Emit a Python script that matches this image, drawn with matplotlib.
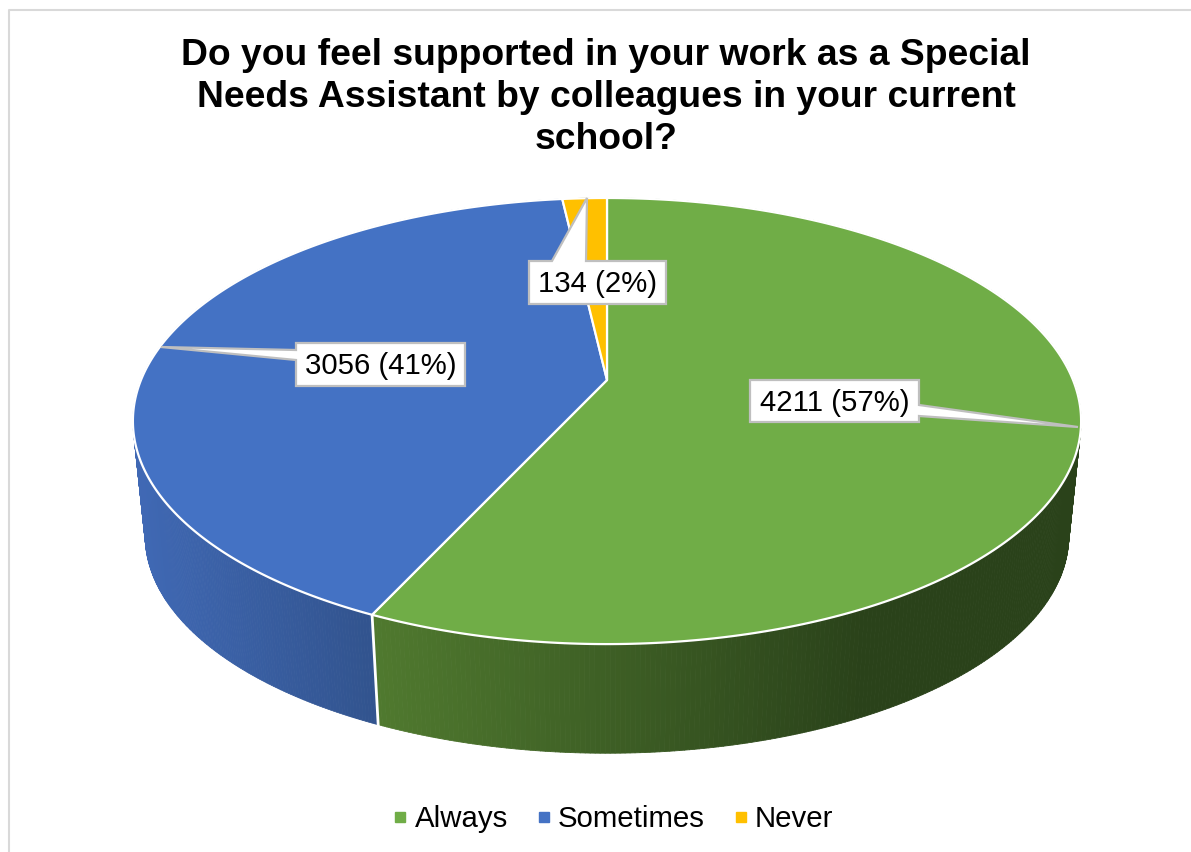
import numpy as np
import matplotlib
matplotlib.use('Agg')
import matplotlib.pyplot as plt
from matplotlib.collections import PolyCollection
from matplotlib.lines import Line2D
from matplotlib.patches import Polygon

plt.rcParams['font.family'] = ['Liberation Sans', 'DejaVu Sans']

# Data
labels = ['Always', 'Sometimes', 'Never']
values = [4211, 3056, 134]
colors = ['#70AD47', '#4472C4', '#FFC000']

# Wall shading, left and right end of each slice's gradient
wall_left = ['#507A2F', '#4069B5', '#7F6000']
wall_right = ['#2A421A', '#32548F', '#7F6000']
wall_span = [(378, 860), (140, 372), (560, 610)]

# Callouts: box (x0, y0, x1, y1), tip, base points of the pointer
box_pos = [(750, 380, 919, 422), (296, 343, 465, 386), (529, 261, 666, 304)]
tip_pos = [(1078, 427), (161, 347), (587, 198)]
base_pos = [[(919, 405), (919, 416)], [(296, 350), (296, 360)], [(552, 261), (586, 261)]]

# Pie geometry in pixels, the tilt is a perspective projection of a circle
cx, cy = 607, 380
bx, by, k = 466, 215.5, 0.184
depth_y, depth_scale = 116, 0.974


def project(t, scale=1.0, dy=0.0):
    denom = 1 + k * np.cos(t)
    x = cx + scale * bx * np.sin(t) / denom
    y = cy + dy - scale * by * np.cos(t) / denom
    return x, y


def mix(c0, c1, f):
    a = np.array(matplotlib.colors.to_rgb(c0))
    b = np.array(matplotlib.colors.to_rgb(c1))
    return tuple(a + (b - a) * np.clip(f, 0, 1))


fig = plt.figure(figsize=(11.91, 8.52), dpi=100)
ax = fig.add_axes([0, 0, 1, 1])
ax.set_xlim(0, 1191)
ax.set_ylim(852, 0)
ax.axis('off')

# Chart border, only the top and left edges are inside the crop
ax.plot([9, 9, 1191], [852, 10, 10], color='#D9D9D9', lw=1.5)

fracs = np.array(values) / sum(values)
edges = 2 * np.pi * np.concatenate([[0], np.cumsum(fracs)])

# Side wall, drawn first so the top covers the hidden part
for i in range(len(values)):
    t = np.linspace(edges[i], edges[i + 1], 400)
    x0, y0 = project(t)
    x1, y1 = project(t, depth_scale, depth_y)
    quads = []
    cols = []
    for j in range(len(t) - 1):
        quads.append([(x0[j], y0[j]), (x0[j + 1], y0[j + 1]), (x1[j + 1], y1[j + 1]), (x1[j], y1[j])])
        f = (x1[j] - wall_span[i][0]) / (wall_span[i][1] - wall_span[i][0])
        cols.append(mix(wall_left[i], wall_right[i], f))
    ax.add_collection(PolyCollection(quads, facecolors=cols, edgecolors=cols, linewidths=0.6, zorder=2))

# Wall divider at the front
xa, ya = project(edges[1])
xb, yb = project(edges[1], depth_scale, depth_y)
ax.plot([xa, xb], [ya, yb], color='white', lw=2, zorder=3)

# Top of the pie
for i in range(len(values)):
    t = np.linspace(edges[i], edges[i + 1], 300)
    x, y = project(t)
    pts = np.column_stack([np.r_[cx, x], np.r_[cy, y]])
    ax.add_patch(Polygon(pts, closed=True, fc=colors[i], ec='white', lw=1.6, joinstyle='round', zorder=4))

# Data labels with pointers
for i in range(len(values)):
    x0, y0, x1, y1 = box_pos[i]
    b0, b1 = base_pos[i]
    if i == 0:
        pts = [(x0, y0), (x1, y0), b0, tip_pos[i], b1, (x1, y1), (x0, y1)]
    elif i == 1:
        pts = [(x0, y0), (x1, y0), (x1, y1), (x0, y1), b1, tip_pos[i], b0]
    else:
        pts = [(x0, y0), b0, tip_pos[i], b1, (x1, y0), (x1, y1), (x0, y1)]
    ax.add_patch(Polygon(pts, closed=True, fc='white', ec='#BFBFBF', lw=1.6, zorder=5))
    txt = f'{values[i]} ({round(fracs[i] * 100)}%)'
    ax.text((x0 + x1) / 2, (y0 + y1) / 2 + 2, txt, fontsize=21.2, color='black',
            ha='center', va='center', zorder=6)

ax.text(606, 97.5, 'Do you feel supported in your work as a Special\n'
        'Needs Assistant by colleagues in your current\nschool?',
        fontsize=26.8, fontweight='bold', color='black', ha='center', va='center',
        linespacing=1.27)

handles = [Line2D([], [], ls='none', marker='s', ms=7, color=c) for c in colors]
ax.legend(handles, labels, loc='center', bbox_to_anchor=(613, 819), bbox_transform=ax.transData,
          ncol=3, frameon=False, fontsize=21.2, handlelength=0.5, handletextpad=0.23,
          columnspacing=0.97, borderpad=0)

fig.savefig('out.png', dpi=100, facecolor='white')
